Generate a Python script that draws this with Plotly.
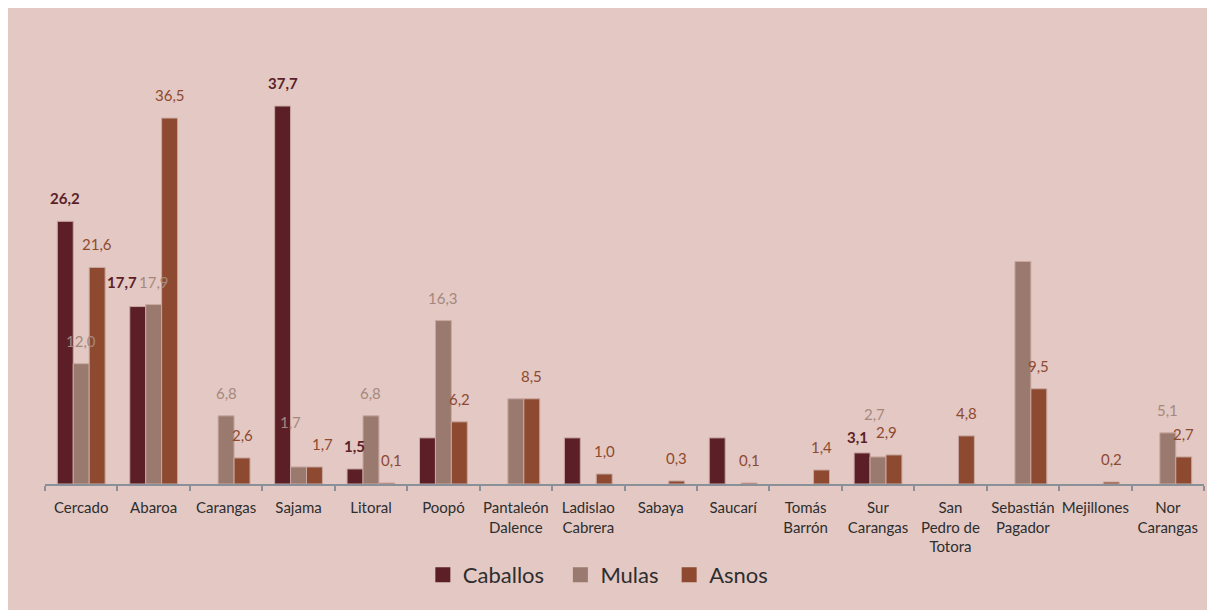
import plotly.graph_objects as go

categories = ["Cercado", "Abaroa", "Carangas", "Sajama", "Litoral", "Poopó",
              "Pantaleón<br>Dalence", "Ladislao<br>Cabrera", "Sabaya", "Saucarí",
              "Tomás<br>Barrón", "Sur<br>Carangas", "San<br>Pedro de<br>Totora",
              "Sebastián<br>Pagador", "Mejillones", "Nor<br>Carangas"]

caballos = [26.2, 17.7, 0, 37.7, 1.5, 4.6, 0, 4.6, 0, 4.6, 0, 3.1, 0, 0, 0, 0]
mulas = [12.0, 17.9, 6.8, 1.7, 6.8, 16.3, 8.5, 0, 0, 0, 0, 2.7, 0, 22.2, 0, 5.1]
asnos = [21.6, 36.5, 2.6, 1.7, 0.1, 6.2, 8.5, 1.0, 0.3, 0.1, 1.4, 2.9, 4.8, 9.5, 0.2, 2.7]

caballos_lbl = ["26,2", "17,7", "", "37,7", "1,5", "", "", "", "", "", "", "3,1", "", "", "", ""]
mulas_lbl = ["12,0", "17,9", "6,8", "1,7", "6,8", "16,3", "", "", "", "", "", "2,7", "", "", "", "5,1"]
asnos_lbl = ["21,6", "36,5", "2,6", "1,7", "0,1", "6,2", "8,5", "1,0", "0,3", "0,1", "1,4", "2,9", "4,8", "9,5", "0,2", "2,7"]

FONT = "Lato, Roboto, sans-serif"
C_CAB, C_MUL, C_ASN = "#5c1f27", "#9a7a6e", "#8e4a30"
BG = "#e3c8c4"
NB = "\u00a0"

# label placement styling: (series, category index) -> (dx px, dy px)
NUDGE = {
    ("Caballos", 1): (-16, 2),
    ("Mulas", 3): (-8, 22),
    ("Asnos", 3): (8, 0),
    ("Asnos", 4): (5, 0),
    ("Caballos", 11): (-5, -7),
    ("Mulas", 11): (-4, 20),
    ("Asnos", 11): (-8, 0),
}

series = [
    ("Caballos", caballos, caballos_lbl, C_CAB, "#5c1f27", "bold", -16, 2),
    ("Mulas", mulas, mulas_lbl, C_MUL, "#a5887d", "normal", 0, 1),
    ("Asnos", asnos, asnos_lbl, C_ASN, "#8e4a30", "normal", 16, 0),
]

fig = go.Figure()
annotations = []
for name, vals, lbl, col, tcol, tw, off, pad in series:
    fig.add_trace(go.Bar(
        name=name, x=categories, y=vals, showlegend=False,
        marker=dict(color=col, line=dict(color="#c9a8a2",
                                         width=[1 if v > 0 else 0 for v in vals])),
    ))
    # legend proxy
    fig.add_trace(go.Scatter(
        name=name + NB * pad, x=[None], y=[None], mode="markers",
        marker=dict(symbol="square", size=15, color=col),
    ))
    for i, (cat, v, t) in enumerate(zip(categories, vals, lbl)):
        if not t:
            continue
        dx, dy = NUDGE.get((name, i), (0, 0))
        annotations.append(dict(
            x=cat, y=v, xref="x", yref="y", text=t, showarrow=False,
            xshift=off + dx, yshift=23 + dy, yanchor="middle", xanchor="center",
            font=dict(family=FONT, size=15, color=tcol, weight=tw),
        ))

fig.update_layout(
    width=1215, height=610,
    margin=dict(l=37, r=19, t=75, b=134, autoexpand=False),
    paper_bgcolor=BG, plot_bgcolor=BG,
    barmode="group", bargap=0.34, bargroupgap=0,
    font=dict(family=FONT, color="#333333"),
    showlegend=True,
    legend=dict(orientation="h", x=0.326, xanchor="left", y=-0.227, yanchor="middle",
                font=dict(family=FONT, size=22, color="#2e2e2e"),
                bgcolor="rgba(0,0,0,0)", traceorder="normal", itemsizing="trace"),
    annotations=annotations,
)
fig.update_xaxes(showline=True, linecolor="#8a9098", linewidth=2, ticks="outside",
                 tickson="boundaries", ticklen=5, tickcolor="#8a9098", tickwidth=2,
                 tickangle=0, automargin=False, ticklabelstandoff=9,
                 tickfont=dict(family=FONT, size=15, color="#2e2e2e"),
                 showgrid=False, zeroline=False)
fig.update_yaxes(visible=False, range=[0, 40], showgrid=False, automargin=False)

fig.write_html("out.html")
